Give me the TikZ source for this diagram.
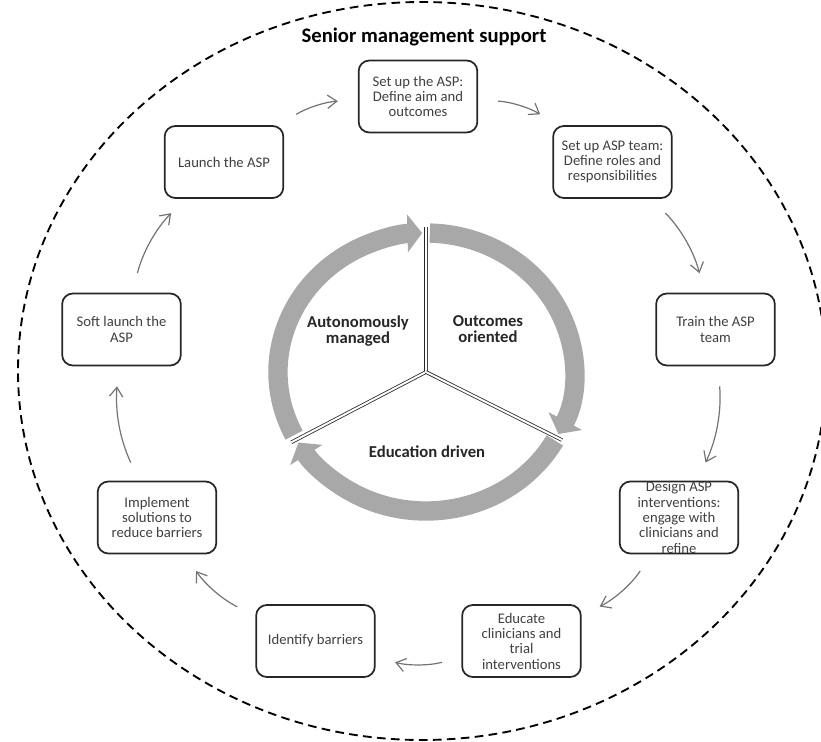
\documentclass[tikz,border=0pt]{standalone}
\usepackage{fontspec}
\setmainfont{Carlito}
\usetikzlibrary{arrows.meta}

\begin{document}
\begin{tikzpicture}[x=0.75pt,y=-0.75pt,
	stepbox/.style={draw=black!85, line width=1.3pt, rounded corners=8pt, minimum width=89pt, minimum height=54pt, align=center, text=black!75, font=\fontsize{11}{11.5}\selectfont},
	flow/.style={draw=black!55, line width=0.9pt, -{Straight Barb[length=7pt,width=10pt]}, shorten <=15pt, shorten >=15pt, bend left=15},
	band/.style={draw=black!34, line width=14.5pt, -{Triangle[length=11pt,width=28pt]}},
	spoke/.style={draw=black!85, line width=0.6pt, double=white, double distance=1.5pt},
	pillar/.style={font=\fontsize{12.5}{11.5}\selectfont\bfseries, text=black!85, align=center}]
				\useasboundingbox (0, 0) rectangle (821, 742);
				\draw[line width=1.4pt, dash pattern=on 6.5pt off 4pt] (422, 371) ellipse [x radius=404, y radius=369];
				\node[font=\fontsize{15.5}{17}\selectfont\bfseries] (senior) at (424, 37) {Senior management support};
				\node[stepbox] (setup) at (418, 96.5) {Set up the ASP:\\Define aim and\\outcomes};
				\node[stepbox] (team) at (612.5, 162) {Set up ASP team:\\Define roles and\\responsibilities};
				\node[stepbox] (train) at (715.5, 329.5) {Train the ASP\\team};
				\node[stepbox, inner ysep=0pt] (design) at (679, 517.5) {Design ASP\\interventions:\\engage with\\clinicians and\\refine};
				\node[stepbox] (educate) at (521.5, 641) {Educate\\clinicians and\\trial\\interventions};
				\node[stepbox] (identify) at (315.5, 641) {Identify barriers};
				\node[stepbox] (implement) at (157, 517.5) {Implement\\solutions to\\reduce barriers};
				\node[stepbox] (soft) at (121.5, 329.5) {Soft launch the\\ASP};
				\node[stepbox] (launch) at (224, 162) {Launch the ASP};
				\draw[flow] (launch) to (setup);
				\draw[flow] (setup) to (team);
				\draw[flow] (team) to (train);
				\draw[flow] (train) to (design);
				\draw[flow] (design) to (educate);
				\draw[flow] (educate) to (identify);
				\draw[flow] (identify) to (implement);
				\draw[flow] (implement) to (soft);
				\draw[flow] (soft) to (launch);
				\coordinate (hub) at (426, 372);
				\draw[band] ([shift={(153:148 and 139)}]hub) arc[start angle=153, end angle=268.5, x radius=148, y radius=139];
				\draw[band] ([shift={(271.5:148 and 139)}]hub) arc[start angle=271.5, end angle=386.5, x radius=148, y radius=139];
				\draw[band] ([shift={(29.5:148 and 139)}]hub) arc[start angle=29.5, end angle=149.5, x radius=148, y radius=139];
				\draw[spoke] (hub) ++(151:154 and 145) -- (hub) -- ++(270:154 and 145);
				\draw[spoke] (hub) -- ++(28:154 and 145);
				\node[pillar] (autonomous) at (358, 331) {Autonomously\\managed};
				\node[pillar] (outcomes) at (488, 329) {Outcomes\\oriented};
				\node[pillar] (education) at (427, 452) {Education driven};
			\end{tikzpicture}
\end{document}
